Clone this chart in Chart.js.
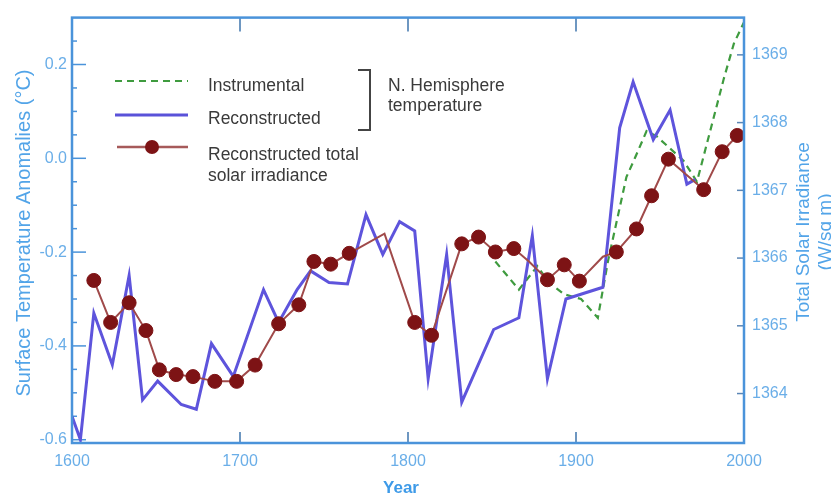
<!DOCTYPE html>
<html>
<head>
<meta charset="utf-8">
<script src="https://cdn.jsdelivr.net/npm/chart.js@4.4.0/dist/chart.umd.min.js"></script>
<style>
  html, body { margin: 0; padding: 0; background: #fff; }
  #wrap { width: 831px; height: 497px; }
</style>
</head>
<body>
<div id="wrap"><canvas id="grafico" width="831" height="497"></canvas></div>
<script>
// Temperatura reconstruida (Hemisfério Norte), °C
const anosRecon = [1600, 1605, 1613, 1624, 1634, 1642, 1651, 1665, 1674, 1683, 1696, 1714, 1723, 1734,
  1742, 1753, 1764, 1775, 1785, 1795, 1804, 1812, 1823, 1832, 1851, 1866, 1874, 1883, 1894, 1916,
  1926, 1934, 1946, 1956, 1966, 1971];
const tempRecon = [-0.55, -0.60, -0.33, -0.44, -0.25, -0.515, -0.475, -0.525, -0.535, -0.395, -0.465, -0.28, -0.35, -0.28,
  -0.24, -0.265, -0.268, -0.12, -0.205, -0.135, -0.155, -0.47, -0.205, -0.52, -0.365, -0.34, -0.165, -0.47, -0.30, -0.275,
  0.065, 0.163, 0.04, 0.103, -0.055, -0.045];

// Temperatura instrumental, °C
const anosInstr = [1852, 1866, 1877, 1884, 1893, 1903, 1913, 1919, 1930, 1935, 1942, 1948, 1964, 1972, 1980, 1988, 1994, 2000];
const tempInstr = [-0.22, -0.28, -0.23, -0.265, -0.29, -0.30, -0.34, -0.22, -0.04, 0.0, 0.058, 0.047, -0.005, -0.05, 0.06, 0.17, 0.245, 0.29];

// Irradiância solar total reconstruida, W/m²
const anosSolar = [1613, 1623, 1634, 1644, 1652, 1662, 1672, 1685, 1698, 1709, 1723, 1735, 1744, 1754, 1765,
  1786, 1804, 1814, 1832, 1842, 1852, 1863, 1872, 1883, 1893, 1902, 1916, 1924, 1936, 1945, 1955, 1976, 1987, 1996];
const irradSolar = [1365.67, 1365.05, 1365.34, 1364.93, 1364.35, 1364.28, 1364.25, 1364.18, 1364.18, 1364.42, 1365.03, 1365.31, 1365.95, 1365.91, 1366.07,
  1366.36, 1365.05, 1364.86, 1366.21, 1366.31, 1366.09, 1366.14, 1365.95, 1365.68, 1365.90, 1365.66, 1366.02, 1366.09, 1366.43, 1366.92, 1367.46, 1367.01, 1367.57, 1367.81];
// anos da série solar sem marcador visível
const solarSemMarcador = [1786, 1872, 1916];

// Rótulos dos eixos
const ticksAnos = [1600, 1700, 1800, 1900, 2000];
const ticksTemp = [-0.6, -0.4, -0.2, 0.0, 0.2];
const ticksIrrad = [1364, 1365, 1366, 1367, 1368, 1369];

const corEixo = '#4a93da';
const corTexto = '#6aaee8';
const fonte = '"Liberation Sans", Arial, sans-serif';

const paraPontos = (xs, ys) => xs.map((x, i) => ({ x, y: ys[i] }));

// Moldura, marcas internas, títulos e legenda
const decoracoes = {
  id: 'decoracoes',
  beforeDatasetsDraw(chart) {
    const { ctx, chartArea: a, scales } = chart;
    ctx.save();
    ctx.strokeStyle = corEixo;
    ctx.lineWidth = 1.5;
    // marcas do eixo de temperatura (a cada 0.05)
    for (let k = -12; k <= 5; k++) {
      const y = scales.yTemp.getPixelForValue(k * 0.05);
      const len = k % 4 === 0 ? 14 : 5;
      ctx.beginPath();
      ctx.moveTo(a.left, y);
      ctx.lineTo(a.left + len, y);
      ctx.stroke();
    }
    // marcas do eixo de irradiância
    ctx.strokeStyle = '#5b86b5';
    ticksIrrad.forEach(v => {
      const y = scales.yIrrad.getPixelForValue(v);
      ctx.beginPath();
      ctx.moveTo(a.right - 7, y);
      ctx.lineTo(a.right, y);
      ctx.stroke();
    });
    // marcas dos anos, em cima e embaixo
    ctx.strokeStyle = '#3f75ad';
    ticksAnos.slice(1, -1).forEach(v => {
      const x = scales.x.getPixelForValue(v);
      ctx.beginPath();
      ctx.moveTo(x, a.top);
      ctx.lineTo(x, a.top + 14);
      ctx.moveTo(x, a.bottom);
      ctx.lineTo(x, a.bottom - 11);
      ctx.stroke();
    });
    ctx.restore();
  },
  afterDraw(chart) {
    const { ctx, chartArea: a } = chart;
    ctx.save();
    // moldura
    ctx.strokeStyle = corEixo;
    ctx.lineWidth = 2.5;
    ctx.strokeRect(a.left, a.top, a.right - a.left, a.bottom - a.top);

    // títulos dos eixos
    ctx.fillStyle = '#52a4e8';
    ctx.textAlign = 'center';
    ctx.textBaseline = 'middle';
    ctx.font = '20px ' + fonte;
    ctx.save();
    ctx.translate(24, 233);
    ctx.rotate(-Math.PI / 2);
    ctx.fillText('Surface Temperature Anomalies (°C)', 0, 0);
    ctx.restore();
    ctx.font = '19px ' + fonte;
    ctx.save();
    ctx.translate(804, 232);
    ctx.rotate(-Math.PI / 2);
    ctx.fillText('Total Solar Irradiance', 0, 0);
    ctx.fillText('(W/sq m)', 0, 22);
    ctx.restore();
    ctx.font = 'bold 17px ' + fonte;
    ctx.fillStyle = '#3d9ae8';
    ctx.fillText('Year', 401, 488);

    // legenda
    ctx.lineWidth = 2;
    ctx.strokeStyle = '#3f9b3f';
    ctx.setLineDash([7, 5]);
    ctx.beginPath(); ctx.moveTo(115, 81); ctx.lineTo(188, 81); ctx.stroke();
    ctx.setLineDash([]);
    ctx.lineWidth = 3;
    ctx.strokeStyle = '#5a52d9';
    ctx.beginPath(); ctx.moveTo(115, 115); ctx.lineTo(188, 115); ctx.stroke();
    ctx.lineWidth = 2.5;
    ctx.strokeStyle = '#a65a5a';
    ctx.beginPath(); ctx.moveTo(117, 147); ctx.lineTo(188, 147); ctx.stroke();
    ctx.fillStyle = '#7d1315';
    ctx.beginPath(); ctx.arc(152, 147, 7, 0, Math.PI * 2); ctx.fill();

    ctx.fillStyle = '#3a3a3a';
    ctx.textAlign = 'left';
    ctx.font = '17.5px ' + fonte;
    ctx.fillText('Instrumental', 208, 86);
    ctx.fillText('Reconstructed', 208, 119);
    ctx.fillText('Reconstructed total', 208, 155);
    ctx.fillText('solar irradiance', 208, 176);
    ctx.fillText('N. Hemisphere', 388, 86);
    ctx.fillText('temperature', 388, 106);

    // colchete
    ctx.strokeStyle = '#444';
    ctx.lineWidth = 2;
    ctx.beginPath();
    ctx.moveTo(358, 70); ctx.lineTo(370, 70); ctx.lineTo(370, 130); ctx.lineTo(358, 130);
    ctx.stroke();
    ctx.restore();
  }
};

const canvas = document.getElementById('grafico');
new Chart(canvas.getContext('2d'), {
  type: 'line',
  data: {
    datasets: [
      {
        label: 'Reconstructed total solar irradiance',
        data: paraPontos(anosSolar, irradSolar),
        yAxisID: 'yIrrad',
        borderColor: '#a04a4a',
        borderWidth: 2,
        pointRadius: c => (c.raw && solarSemMarcador.includes(c.raw.x) ? 0 : 7),
        pointBackgroundColor: '#7d1315',
        pointBorderColor: '#7d1315',
        pointBorderWidth: 1
      },
      {
        label: 'Reconstructed',
        data: paraPontos(anosRecon, tempRecon),
        yAxisID: 'yTemp',
        borderColor: '#5e54dc',
        borderWidth: 3,
        pointRadius: 0
      },
      {
        label: 'Instrumental',
        data: paraPontos(anosInstr, tempInstr),
        yAxisID: 'yTemp',
        borderColor: '#3f9b3f',
        borderWidth: 2.2,
        borderDash: [7, 5],
        pointRadius: 0
      }
    ]
  },
  options: {
    responsive: false,
    animation: false,
    devicePixelRatio: 1,
    layout: { padding: { top: 12, left: 0, right: 0, bottom: 0 } },
    plugins: { legend: { display: false }, tooltip: { enabled: false } },
    scales: {
      x: {
        type: 'linear',
        min: 1600,
        max: 2000,
        afterBuildTicks: s => { s.ticks = ticksAnos.map(v => ({ value: v })); },
        afterFit: s => { s.height = 54; },
        grid: { display: false, drawTicks: false },
        border: { display: false },
        ticks: { padding: 9, color: corTexto, font: { family: fonte, size: 16 }, callback: v => String(v) }
      },
      yTemp: {
        position: 'left',
        min: -0.607,
        max: 0.3,
        afterBuildTicks: s => { s.ticks = ticksTemp.map(v => ({ value: v })); },
        afterFit: s => { s.width = 72; },
        grid: { display: false, drawTicks: false },
        border: { display: false },
        ticks: { padding: 5, color: corTexto, font: { family: fonte, size: 16 }, callback: v => v.toFixed(1) }
      },
      yIrrad: {
        position: 'right',
        min: 1363.27,
        max: 1369.55,
        afterBuildTicks: s => { s.ticks = ticksIrrad.map(v => ({ value: v })); },
        afterFit: s => { s.width = 87; },
        grid: { display: false, drawTicks: false },
        border: { display: false },
        ticks: { padding: 8, color: corTexto, font: { family: fonte, size: 16 }, callback: v => String(v) }
      }
    }
  },
  plugins: [decoracoes]
});
</script>
</body>
</html>
